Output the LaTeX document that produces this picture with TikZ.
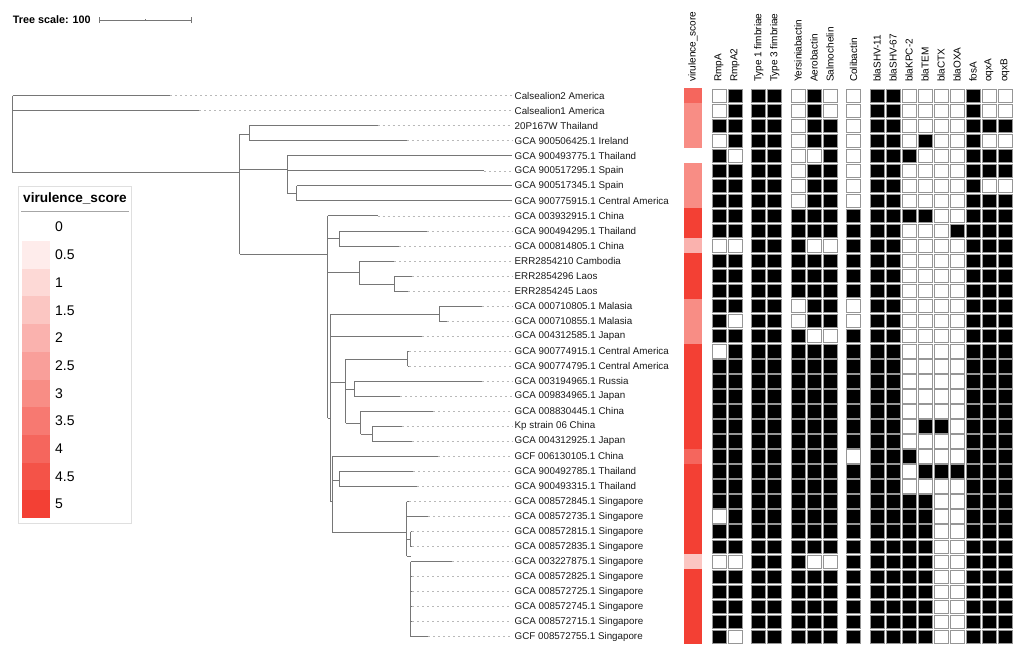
\documentclass[tikz,border=0pt]{standalone}
\usepackage{fontspec}
\setmainfont{Liberation Sans}
\usepackage{tikz}
\usepackage{xcolor}
\definecolor{vsred}{RGB}{243,64,52}
\definecolor{treegray}{RGB}{118,118,118}
\definecolor{cellgray}{RGB}{150,150,150}

\begin{document}
\begin{tikzpicture}[x=1pt,y=-1pt,
    branch/.style={treegray,line width=0.9pt},
    leader/.style={gray!55,line width=0.7pt,dash pattern=on 2pt off 3pt},
    leaf/.style={anchor=west,inner sep=0pt,text=black!90,font=\fontsize{9.8}{11}\selectfont},
    colhead/.style={rotate=90,anchor=west,inner sep=0pt,font=\fontsize{10}{12}\selectfont},
    cell0/.style={draw=cellgray,line width=0.8pt,fill=white},
    cell1/.style={draw=cellgray,line width=0.8pt,fill=black}]
    \useasboundingbox (0,0) rectangle (1021,656);

    % tree scale
    \node[anchor=west,inner sep=0pt,font=\bfseries\fontsize{10.8}{12}\selectfont] (scaletxt) at (12.7,20) {Tree scale: 100};
    \coordinate (sbl) at (99.3,20);
    \coordinate (sbr) at (191.7,20);
    \draw[branch] (sbl) -- (sbr);
    \draw[branch] ([yshift=-3pt]sbl) -- ([yshift=3pt]sbl);
    \draw[branch] ([yshift=-3pt]sbr) -- ([yshift=3pt]sbr);
    \draw[branch] (145.7,19) -- (145.7,21);

    % legend
    \draw[gray!25,line width=0.8pt] (18.3,186.7) rectangle (131.7,523);
    \node[font=\bfseries\fontsize{13.6}{15}\selectfont] (legtitle) at (75,198.5) {virulence\_score};
    \draw[gray!70,line width=1pt] (21,211.7) -- (128.5,211.7);
    \foreach \i/\lab in {0/0,1/0.5,2/1,3/1.5,4/2,5/2.5,6/3,7/3.5,8/4,9/4.5,10/5} {
        \pgfmathsetmacro\yt{213.3+27.7*\i}
        \pgfmathtruncatemacro\pc{10*\i}
        \fill[vsred!\pc!white] (22.3,\yt) rectangle (50,\yt+27.7);
        \node[anchor=west,inner sep=0pt,font=\fontsize{14}{16}\selectfont] (leg\i) at (55,\yt+13.85) {\lab};
    }

    % root and inner branches
    \draw[branch] (12.7,95.7) -- (12.7,172.3) -- (239.7,172.3);
    \foreach \x/\ya/\yb in {239.7/134/254.3, 249/125.76/140.79, 287/155.82/193.3,
        296.7/185.88/200.91, 327.5/215.94/418.3, 339/230.97/246, 359.3/261.03/284,
        394.3/276.06/291.09, 330/314/501.7, 439.3/306.12/321.15, 345.7/359.3/423.3,
        407.7/351.21/366.24, 354/381.27/396.3, 360.7/411.33/434, 372.3/426.36/441.39,
        332.3/456.42/532, 339.3/471.45/486.48, 406.7/501.51/556, 410.7/531.57/546.6,
        410.7/561.63/636.78}
        \draw[branch] (\x,\ya) -- (\x,\yb);
    \foreach \y/\xa/\xb in {134/239.7/249, 169.3/239.7/287, 193.3/287/296.7,
        254.3/239.7/327.5, 238.3/327.5/339, 272.7/327.5/359.3, 284/359.3/394.3,
        418.3/327.5/330, 314/330/439.3, 382.7/330/345.7, 359.3/345.7/407.7,
        389.3/345.7/354, 423.3/345.7/360.7, 434/360.7/372.3, 501.7/330/332.3,
        480/332.3/339.3, 532/332.3/406.7, 539/406.7/410.7, 556/406.7/410.7}
        \draw[branch] (\xa,\y) -- (\xb,\y);

    % leaves with labels
    \foreach \r/\xa/\xb/\lab in {
        1/12.7/170/Calsealion2 America,
        2/12.7/199/Calsealion1 America,
        3/249/377.7/20P167W Thailand,
        4/249/406.7/GCA 900506425.1 Ireland,
        5/287/512/GCA 900493775.1 Thailand,
        6/287/484.3/GCA 900517295.1 Spain,
        7/296.7/512/GCA 900517345.1 Spain,
        8/296.7/512/GCA 900775915.1 Central America,
        9/327.5/377.7/GCA 003932915.1 China,
        10/339/426.7/GCA 900494295.1 Thailand,
        11/339/399/GCA 000814805.1 China,
        12/359.3/394.3/ERR2854210 Cambodia,
        13/394.3/411.7/ERR2854296 Laos,
        14/394.3/408/ERR2854245 Laos,
        15/439.3/481.7/GCA 000710805.1 Malasia,
        16/439.3/446.7/GCA 000710855.1 Malasia,
        17/330/421.7/GCA 004312585.1 Japan,
        18/407.7/409/GCA 900774915.1 Central America,
        19/407.7/409/GCA 900774795.1 Central America,
        20/354/481.7/GCA 003194965.1 Russia,
        21/354/400/GCA 009834965.1 Japan,
        22/360.7/433.3/GCA 008830445.1 China,
        23/372.3/401.7/Kp strain 06 China,
        24/372.3/411.7/GCA 004312925.1 Japan,
        25/332.3/438.3/GCF 006130105.1 China,
        26/339.3/413.3/GCA 900492785.1 Thailand,
        27/339.3/417.3/GCA 900493315.1 Thailand,
        28/406.7/409/GCA 008572845.1 Singapore,
        29/406.7/428.3/GCA 008572735.1 Singapore,
        30/410.7/412/GCA 008572815.1 Singapore,
        31/410.7/412/GCA 008572835.1 Singapore,
        32/410.7/451.7/GCA 003227875.1 Singapore,
        33/410.7/412/GCA 008572825.1 Singapore,
        34/410.7/412/GCA 008572725.1 Singapore,
        35/410.7/412/GCA 008572745.1 Singapore,
        36/410.7/412/GCA 008572715.1 Singapore,
        37/410.7/428.3/GCF 008572755.1 Singapore} {
        \pgfmathsetmacro\ry{95.7+(\r-1)*15.03}
        \draw[branch] (\xa,\ry) -- (\xb,\ry);
        \draw[leader] (\xb,\ry) -- (512,\ry);
        \node[leaf] (lf\r) at (514.5,\ry) {\lab};
    }

    % column headers
    \foreach \x/\t in {693/virulence\_score, 719/RmpA, 735/RmpA2, 758.7/Type 1 fimbriae,
        774.7/Type 3 fimbriae, 798/Yersiniabactin, 814/Aerobactin, 830/Salmochelin,
        853.5/Colibactin, 877/blaSHV-11, 893/blaSHV-67, 909/blaKPC-2, 925/blaTEM,
        941/blaCTX, 957/blaOXA, 973/fosA, 989/oqxA, 1005/oqxB}
        \node[colhead] at (\x,82) {\t};

    % virulence score strip
    \foreach \r/\s in {1/4,2/3,3/3,4/3,5/0,6/3,7/3,8/3,9/5,10/5,11/2,12/5,13/5,14/5,
        15/3,16/3,17/3,18/5,19/5,20/5,21/5,22/5,23/5,24/5,25/4,26/5,27/5,28/5,29/5,
        30/5,31/5,32/1.5,33/5,34/5,35/5,36/5,37/5} {
        \pgfmathsetmacro\ry{95.7+(\r-1)*15.03}
        \pgfmathtruncatemacro\pc{20*\s}
        \fill[vsred!\pc!white] (684,\ry-7.6) rectangle (702,\ry+7.6);
    }

    % presence / absence of genes
    \def\colx{{719,735,758.7,774.7,798,814,830,853.5,877,893,909,925,941,957,973,989,1005}}
    \foreach \r/\bits in {
        1/{0,1,1,1,0,1,0,0,1,1,0,0,0,0,1,0,0},
        2/{0,1,1,1,0,1,0,0,1,1,0,0,0,0,1,0,0},
        3/{1,1,1,1,0,1,1,0,1,1,0,0,0,0,1,1,1},
        4/{0,1,1,1,0,1,1,0,1,1,0,1,0,0,1,0,0},
        5/{1,0,1,1,0,0,1,0,1,1,1,0,0,0,1,1,1},
        6/{1,1,1,1,0,1,1,0,1,1,0,0,0,0,1,1,1},
        7/{1,1,1,1,0,1,1,0,1,1,0,0,0,0,1,0,0},
        8/{1,1,1,1,0,1,1,0,1,1,0,0,0,0,1,1,1},
        9/{1,1,1,1,1,1,1,1,1,1,1,1,0,0,1,1,1},
        10/{1,1,1,1,1,1,1,1,1,1,0,0,0,1,1,1,1},
        11/{0,0,1,1,1,0,0,1,1,1,0,0,0,0,1,1,1},
        12/{1,1,1,1,1,1,1,1,1,1,0,0,0,0,1,1,1},
        13/{1,1,1,1,1,1,1,1,1,1,0,0,0,0,1,1,1},
        14/{1,1,1,1,1,1,1,1,1,1,0,0,0,0,1,1,1},
        15/{1,1,1,1,0,1,1,0,1,1,0,0,0,0,1,1,1},
        16/{1,0,1,1,0,1,1,0,1,1,0,0,0,0,1,1,1},
        17/{1,1,1,1,1,0,0,1,1,1,0,0,0,0,1,1,1},
        18/{0,1,1,1,1,1,1,1,1,1,0,0,0,0,1,1,1},
        19/{1,1,1,1,1,1,1,1,1,1,0,0,0,0,1,1,1},
        20/{1,1,1,1,1,1,1,1,1,1,0,0,0,0,1,1,1},
        21/{1,1,1,1,1,1,1,1,1,1,0,0,0,0,1,1,1},
        22/{1,1,1,1,1,1,1,1,1,1,0,0,0,0,1,1,1},
        23/{1,1,1,1,1,1,1,1,1,1,0,1,1,0,1,1,1},
        24/{1,1,1,1,1,1,1,1,1,1,0,0,0,0,1,1,1},
        25/{1,1,1,1,1,1,1,0,1,1,1,0,0,0,1,1,1},
        26/{1,1,1,1,1,1,1,1,1,1,0,1,1,1,1,1,1},
        27/{1,1,1,1,1,1,1,1,1,1,0,0,0,0,1,1,1},
        28/{1,1,1,1,1,1,1,1,1,1,1,1,0,0,1,1,1},
        29/{0,1,1,1,1,1,1,1,1,1,1,1,0,0,1,1,1},
        30/{1,1,1,1,1,1,1,1,1,1,1,1,0,0,1,1,1},
        31/{1,1,1,1,1,1,1,1,1,1,1,1,0,0,1,1,1},
        32/{0,0,1,1,1,0,0,1,1,1,1,1,0,0,1,1,1},
        33/{1,1,1,1,1,1,1,1,1,1,1,1,0,0,1,1,1},
        34/{1,1,1,1,1,1,1,1,1,1,1,1,0,0,1,1,1},
        35/{1,1,1,1,1,1,1,1,1,1,1,1,0,0,1,1,1},
        36/{1,1,1,1,1,1,1,1,1,1,1,1,0,0,1,1,1},
        37/{1,0,1,1,1,1,1,1,1,1,1,1,0,0,1,1,1}} {
        \pgfmathsetmacro\ry{95.7+(\r-1)*15.03}
        \foreach \v [count=\c] in \bits {
            \pgfmathsetmacro\cx{\colx[\c-1]}
            \filldraw[cell\v] (\cx-7,\ry-6.7) rectangle (\cx+7,\ry+6.7);
        }
    }
\end{tikzpicture}
\end{document}
